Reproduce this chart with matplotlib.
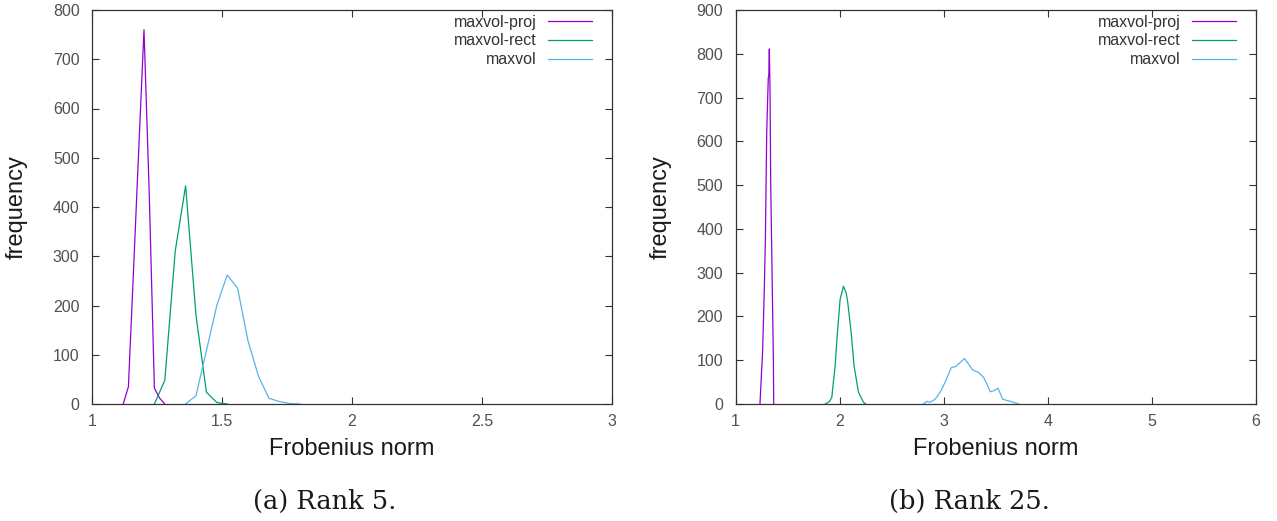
import matplotlib
matplotlib.use("Agg")
import matplotlib.pyplot as plt

# ---- data: Rank 5 (left) ----
r5_proj_x = [1.12, 1.14, 1.16, 1.18, 1.20, 1.22, 1.24, 1.26, 1.28]
r5_proj_y = [0, 35, 275, 520, 760, 430, 32, 12, 0]
r5_rect_x = [1.24, 1.28, 1.32, 1.36, 1.40, 1.44, 1.48, 1.52]
r5_rect_y = [0, 48, 310, 443, 180, 24, 3, 0]
r5_max_x = [1.36, 1.40, 1.44, 1.48, 1.52, 1.56, 1.60, 1.64, 1.68, 1.72, 1.76, 1.80]
r5_max_y = [0, 17, 108, 200, 262, 235, 128, 57, 12, 5, 1, 0]

# ---- data: Rank 25 (right) ----
r25_proj_x = [1.235, 1.25, 1.26, 1.275, 1.287, 1.30, 1.315, 1.32, 1.325, 1.332, 1.338, 1.351, 1.364, 1.367]
r25_proj_y = [0, 72, 118, 246, 375, 621, 746, 750, 811, 708, 507, 302, 102, 0]
r25_rect_x = [1.861, 1.90, 1.925, 1.957, 1.979, 2.005, 2.037, 2.063, 2.079, 2.111, 2.139, 2.181, 2.229, 2.25]
r25_rect_y = [0, 5, 15, 87, 163, 239, 269, 254, 231, 163, 87, 27, 4, 0]
r25_max_x = [2.806, 2.838, 2.87, 2.918, 2.966, 3.014, 3.046, 3.072, 3.117, 3.159, 3.20, 3.239,
             3.277, 3.335, 3.383, 3.416, 3.447, 3.479, 3.522, 3.566, 3.609, 3.657, 3.72]
r25_max_y = [0, 6, 4, 11, 27, 50, 68, 83, 86, 95, 104, 91,
             78, 72, 61, 45, 28, 30, 36, 11, 8, 5, 0]

labels = ["maxvol-proj", "maxvol-rect", "maxvol"]
colors = ["#9400d3", "#009e73", "#56b4e9"]

left_xticks = [1, 1.5, 2, 2.5, 3]
left_xticklabels = ["1", "1.5", "2", "2.5", "3"]
left_yticks = list(range(0, 801, 100))
right_xticks = [1, 2, 3, 4, 5, 6]
right_yticks = list(range(0, 901, 100))

plt.rcParams['font.family'] = ['Liberation Sans', 'DejaVu Sans']

fig = plt.figure(figsize=(12.77, 5.21), dpi=100)
W, H = 1277, 521

def axes_px(x0, x1, y0, y1):
    return fig.add_axes([x0 / W, 1 - y1 / H, (x1 - x0) / W, (y1 - y0) / H])

axL = axes_px(92, 612, 10, 404)
axR = axes_px(735.5, 1256, 10, 404)

series = [
    (axL, [(r5_proj_x, r5_proj_y), (r5_rect_x, r5_rect_y), (r5_max_x, r5_max_y)]),
    (axR, [(r25_proj_x, r25_proj_y), (r25_rect_x, r25_rect_y), (r25_max_x, r25_max_y)]),
]

for ax, data in series:
    for (xs, ys), lab, c in zip(data, labels, colors):
        ax.plot(xs, ys, color=c, lw=0.9, label=lab)
    for s in ax.spines.values():
        s.set_color("#333333")
        s.set_linewidth(0.9)
    ax.tick_params(direction="in", length=5, width=0.8, color="#333333",
                   top=True, right=True, labelsize=11.5, labelcolor="#505050")
    ax.tick_params(axis="y", pad=9)
    ax.tick_params(axis="x", pad=7)
    ax.set_xlabel("Frobenius norm", fontsize=17, color="#1a1a1a")
    ax.set_ylabel("frequency", fontsize=17, color="#1a1a1a")
    ax.xaxis.set_label_coords(0.5, -0.086)
    ax.yaxis.set_label_coords(-0.123, 0.5)
    leg = ax.legend(loc="upper right", bbox_to_anchor=(1 - 20 / 520, 1 - 4.5 / 394),
                    frameon=False, markerfirst=False, fontsize=11.5,
                    handlelength=2.75, handletextpad=0.7, labelspacing=0.24,
                    borderpad=0, borderaxespad=0)
    for t in leg.get_texts():
        t.set_color("#333333")

axL.set_xlim(1, 3)
axL.set_ylim(0, 800)
axL.set_xticks(left_xticks)
axL.set_xticklabels(left_xticklabels)
axL.set_yticks(left_yticks)

axR.set_xlim(1, 6)
axR.set_ylim(0, 900)
axR.set_xticks(right_xticks)
axR.set_yticks(right_yticks)

fig.text(325 / W, 1 - 501 / H, "(a) Rank 5.", ha="center", va="center",
         fontsize=18.5, family=["DejaVu Serif"], color="#1a1a1a")
fig.text(969 / W, 1 - 501 / H, "(b) Rank 25.", ha="center", va="center",
         fontsize=18.5, family=["DejaVu Serif"], color="#1a1a1a")

fig.savefig("out.png", dpi=100)
